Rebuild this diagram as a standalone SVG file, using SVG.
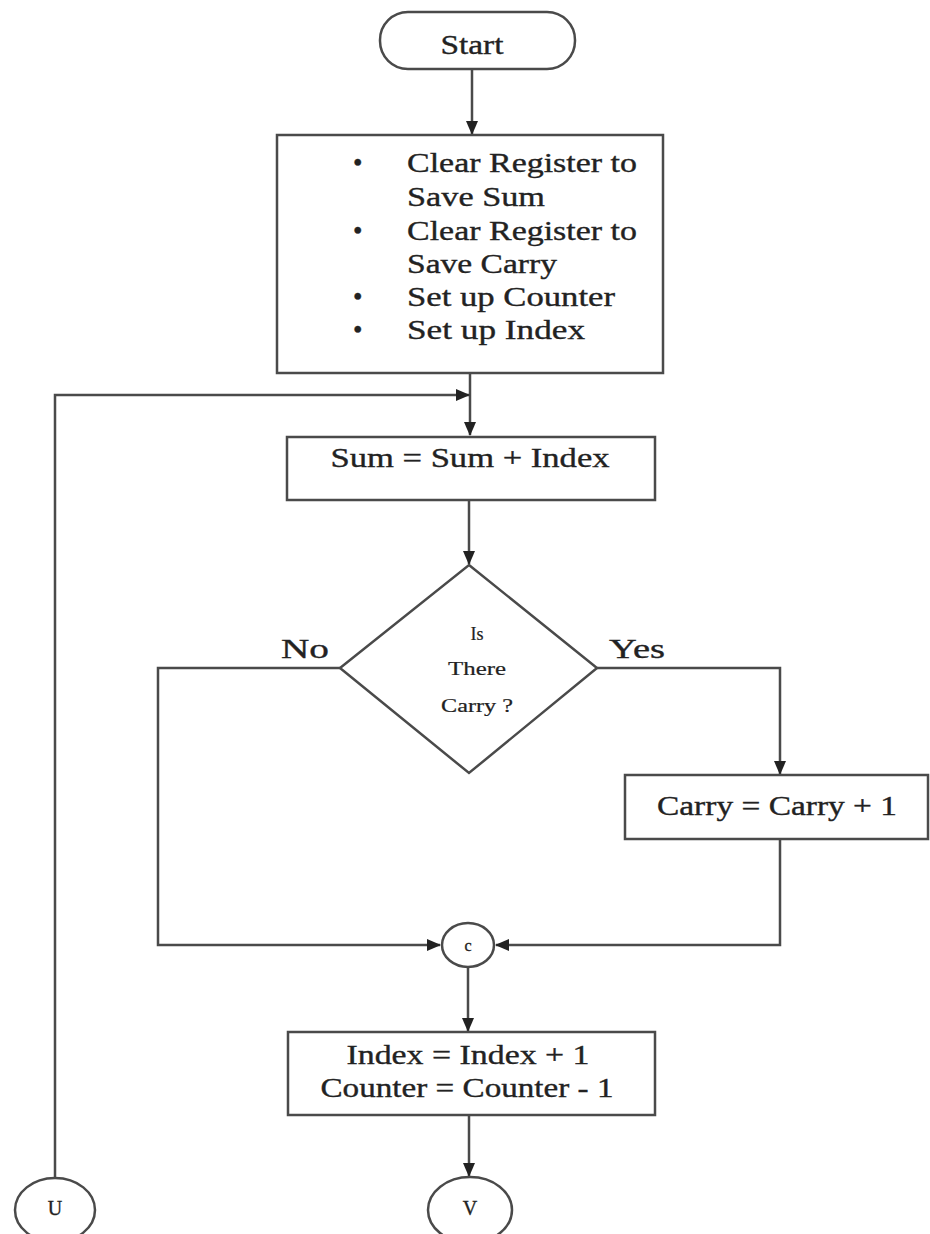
<svg xmlns="http://www.w3.org/2000/svg" width="930" height="1234" viewBox="0 0 930 1234">
<style>
.s{fill:#fff;stroke:#4a4a4a;stroke-width:2.5}
.c{fill:none;stroke:#4a4a4a;stroke-width:2.5}
text{font-family:"Liberation Serif","Times New Roman",serif;fill:#222;stroke:#222;stroke-width:0.35;font-size:27px}
.m{text-anchor:middle}
.sm{font-size:18px;stroke-width:0.2}
</style>
<defs>
<marker id="a" markerUnits="userSpaceOnUse" markerWidth="14" markerHeight="12" refX="13" refY="6" orient="auto">
<path d="M0,0 L14,6 L0,12 Z" fill="#222"/>
</marker>
</defs>
<rect width="930" height="1234" fill="#fff"/>
<g id="connectors">
<line class="c" x1="472" y1="69" x2="472" y2="134" marker-end="url(#a)"/>
<line class="c" x1="470" y1="373" x2="470" y2="435" marker-end="url(#a)"/>
<polyline class="c" points="55,1178 55,395 469,395" marker-end="url(#a)"/>
<line class="c" x1="469" y1="500" x2="469" y2="564" marker-end="url(#a)"/>
<polyline class="c" points="340,668 158,668 158,945 440,945" marker-end="url(#a)"/>
<polyline class="c" points="597,668 780,668 780,774" marker-end="url(#a)"/>
<polyline class="c" points="780,839 780,945 496,945" marker-end="url(#a)"/>
<line class="c" x1="468" y1="967" x2="468" y2="1031" marker-end="url(#a)"/>
<line class="c" x1="469" y1="1115" x2="469" y2="1176" marker-end="url(#a)"/>
<text x="305" y="658" class="m" textLength="48" lengthAdjust="spacingAndGlyphs">No</text>
<text x="637" y="658" class="m" textLength="56" lengthAdjust="spacingAndGlyphs">Yes</text>
</g>
<g id="start">
<rect class="s" x="380" y="12" width="195" height="57" rx="28" ry="28"/>
<text x="472" y="54" class="m" textLength="63" lengthAdjust="spacingAndGlyphs">Start</text>
</g>
<g id="init">
<rect class="s" x="277" y="135" width="386" height="238"/>
<text x="353" y="172">•</text>
<text x="407" y="172" textLength="230" lengthAdjust="spacingAndGlyphs">Clear Register to</text>
<text x="407" y="206" textLength="138" lengthAdjust="spacingAndGlyphs">Save Sum</text>
<text x="353" y="240">•</text>
<text x="407" y="240" textLength="230" lengthAdjust="spacingAndGlyphs">Clear Register to</text>
<text x="407" y="273" textLength="150" lengthAdjust="spacingAndGlyphs">Save Carry</text>
<text x="353" y="306">•</text>
<text x="407" y="306" textLength="208" lengthAdjust="spacingAndGlyphs">Set up Counter</text>
<text x="353" y="339">•</text>
<text x="407" y="339" textLength="178" lengthAdjust="spacingAndGlyphs">Set up Index</text>
</g>
<g id="sum">
<rect class="s" x="287" y="437" width="368" height="63"/>
<text x="470" y="467" class="m" textLength="279" lengthAdjust="spacingAndGlyphs">Sum = Sum + Index</text>
</g>
<g id="decision">
<polygon class="s" points="469,565 597,668 469,773 340,668"/>
<text x="477" y="640" class="m sm">Is</text>
<text x="477" y="675" class="m sm" textLength="58" lengthAdjust="spacingAndGlyphs">There</text>
<text x="477" y="712" class="m sm" textLength="72" lengthAdjust="spacingAndGlyphs">Carry ?</text>
</g>
<g id="carry">
<rect class="s" x="625" y="775" width="303" height="64"/>
<text x="777" y="815" class="m" textLength="240" lengthAdjust="spacingAndGlyphs">Carry = Carry + 1</text>
</g>
<g id="connC">
<ellipse class="s" cx="468" cy="945" rx="26" ry="22"/>
<text x="468" y="951" class="m" style="font-size:16px">c</text>
</g>
<g id="index">
<rect class="s" x="288" y="1032" width="367" height="83"/>
<text x="468" y="1064" class="m" textLength="243" lengthAdjust="spacingAndGlyphs">Index = Index + 1</text>
<text x="467" y="1097" class="m" textLength="293" lengthAdjust="spacingAndGlyphs">Counter = Counter - 1</text>
</g>
<g id="connU">
<ellipse class="s" cx="55" cy="1210" rx="40" ry="32"/>
<text x="55" y="1215" class="m" style="font-size:20px">U</text>
</g>
<g id="connV">
<ellipse class="s" cx="470" cy="1210" rx="42" ry="33"/>
<text x="470" y="1215" class="m" style="font-size:20px">V</text>
</g>
</svg>
